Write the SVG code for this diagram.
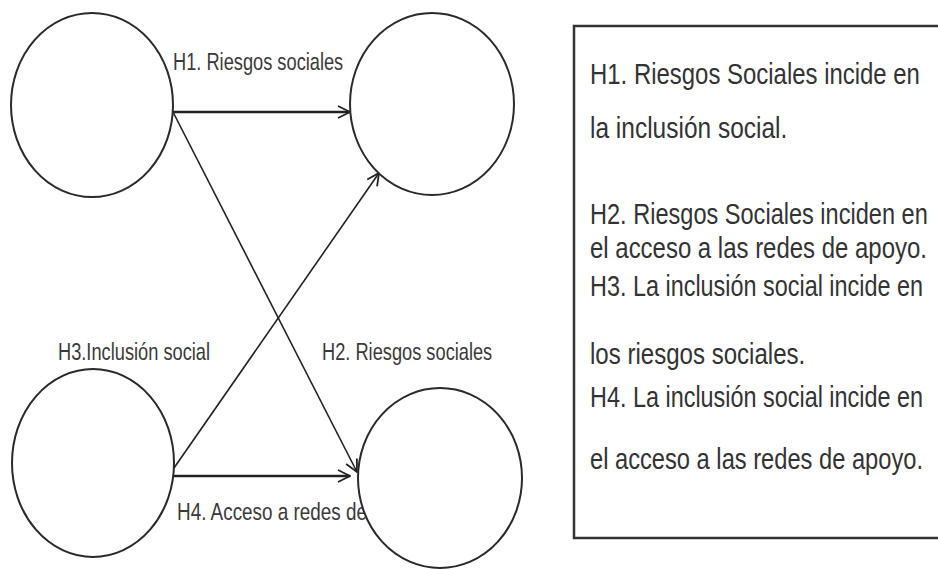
<svg xmlns="http://www.w3.org/2000/svg" width="938" height="569" viewBox="0 0 938 569">
<style>
.node{fill:#fff;stroke:#2a2a2a;stroke-width:2}
.lbl{font-family:"Liberation Sans",Arial,sans-serif;font-size:24px;fill:#3a3a3a}
.box{fill:#fff;stroke:#333;stroke-width:2.5}
.bt{font-family:"Liberation Sans",Arial,sans-serif;font-size:29px;fill:#333}
.edge{fill:none;stroke:#222;stroke-width:1.6}
.edge2{fill:none;stroke:#222;stroke-width:2.4}
</style>
<defs>
<marker id="arr" viewBox="0 0 14 14" refX="13" refY="7" markerWidth="14" markerHeight="14" markerUnits="userSpaceOnUse" orient="auto">
<path d="M1,1 L13,7 L1,13" fill="none" stroke="#222" stroke-width="1.8"/>
</marker>
</defs>
<rect width="938" height="569" fill="#fff"/>
<g id="labels">
<text class="lbl" transform="translate(173,70) scale(0.76,1)" textLength="224" lengthAdjust="spacingAndGlyphs">H1. Riesgos sociales</text>
<text class="lbl" transform="translate(58,360) scale(0.76,1)" textLength="200" lengthAdjust="spacingAndGlyphs">H3.Inclusión social</text>
<text class="lbl" transform="translate(322,360) scale(0.76,1)" textLength="224" lengthAdjust="spacingAndGlyphs">H2. Riesgos sociales</text>
<text class="lbl" transform="translate(177,520) scale(0.76,1)" textLength="250" lengthAdjust="spacingAndGlyphs">H4. Acceso a redes de</text>
</g>
<g id="connectors">
<line class="edge2" x1="173" y1="112" x2="350" y2="112" marker-end="url(#arr)"/>
<line class="edge" x1="173" y1="112" x2="357" y2="472" marker-end="url(#arr)"/>
<line class="edge" x1="174" y1="468" x2="379" y2="173" marker-end="url(#arr)"/>
<line class="edge2" x1="174" y1="476" x2="350" y2="476" marker-end="url(#arr)"/>
</g>
<g id="n1"><ellipse class="node" cx="92" cy="105" rx="81" ry="92"/></g>
<g id="n2"><ellipse class="node" cx="432" cy="104" rx="82" ry="91"/></g>
<g id="n3"><ellipse class="node" cx="93" cy="463" rx="81" ry="94"/></g>
<g id="n4"><ellipse class="node" cx="440" cy="478" rx="82" ry="90"/></g>
<g id="legend">
<rect class="box" x="574" y="26" width="372" height="512"/>
<text class="bt" transform="translate(590,84) scale(0.78,1)" textLength="423" lengthAdjust="spacingAndGlyphs">H1.  Riesgos Sociales  incide en</text>
<text class="bt" transform="translate(590,138) scale(0.78,1)" textLength="253" lengthAdjust="spacingAndGlyphs">la inclusión social.</text>
<text class="bt" transform="translate(590,224) scale(0.78,1)" textLength="433" lengthAdjust="spacingAndGlyphs">H2. Riesgos Sociales  inciden en</text>
<text class="bt" transform="translate(590,258) scale(0.78,1)" textLength="432" lengthAdjust="spacingAndGlyphs">el acceso a  las redes de apoyo.</text>
<text class="bt" transform="translate(590,296) scale(0.78,1)" textLength="427" lengthAdjust="spacingAndGlyphs">H3.  La inclusión social incide en</text>
<text class="bt" transform="translate(590,364) scale(0.78,1)" textLength="276" lengthAdjust="spacingAndGlyphs">los riesgos sociales.</text>
<text class="bt" transform="translate(590,407) scale(0.78,1)" textLength="427" lengthAdjust="spacingAndGlyphs">H4.  La inclusión social incide en</text>
<text class="bt" transform="translate(590,469) scale(0.78,1)" textLength="427" lengthAdjust="spacingAndGlyphs">el acceso a  las redes de apoyo.</text>
</g>
</svg>
